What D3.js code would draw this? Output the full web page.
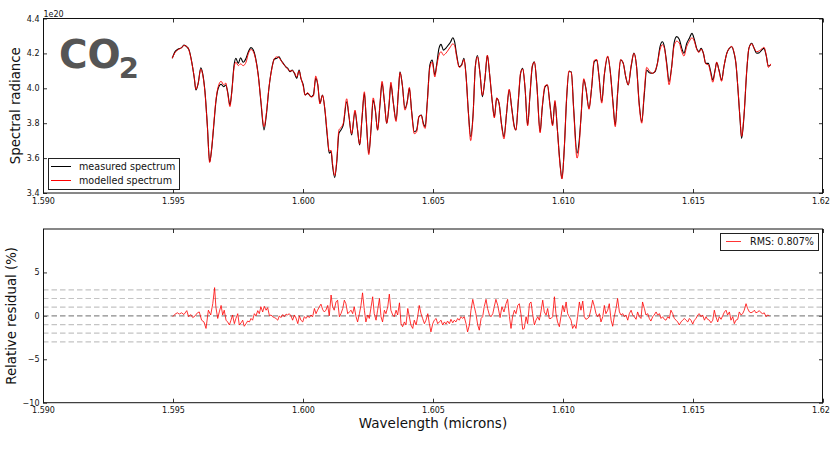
<!DOCTYPE html>
<html>
<head>
<meta charset="utf-8">
<script src="https://cdn.jsdelivr.net/npm/d3@7"></script>
<style>
  html, body { margin: 0; padding: 0; background: #fff; }
  svg { display: block; }
  text { font-family: "DejaVu Sans", sans-serif; }
</style>
</head>
<body>
<svg id="chart" width="830" height="450"></svg>
<script>
// ---------------- DATA ----------------
const wavelength = [1.59497,1.59508,1.59520,1.59533,1.59542,1.59553,1.59562,1.59572,1.59582,1.59588,1.59597,1.59607,1.59614,1.59623,1.59632,1.59641,1.59649,1.59657,1.59665,1.59674,1.59685,1.59695,1.59703,1.59710,1.59719,1.59726,1.59735,1.59742,1.59751,1.59760,1.59770,1.59781,1.59790,1.59800,1.59809,1.59818,1.59828,1.59838,1.59850,1.59859,1.59869,1.59880,1.59890,1.59899,1.59908,1.59915,1.59924,1.59933,1.59941,1.59950,1.59959,1.59967,1.59976,1.59985,1.59992,1.60001,1.60008,1.60018,1.60031,1.60040,1.60049,1.60057,1.60065,1.60075,1.60085,1.60093,1.60101,1.60108,1.60114,1.60122,1.60130,1.60138,1.60146,1.60155,1.60168,1.60177,1.60187,1.60200,1.60209,1.60218,1.60227,1.60236,1.60243,1.60253,1.60262,1.60270,1.60278,1.60287,1.60296,1.60304,1.60313,1.60322,1.60331,1.60338,1.60347,1.60358,1.60367,1.60373,1.60382,1.60392,1.60401,1.60409,1.60418,1.60428,1.60437,1.60446,1.60455,1.60463,1.60470,1.60478,1.60488,1.60497,1.60507,1.60514,1.60523,1.60531,1.60540,1.60549,1.60559,1.60568,1.60576,1.60583,1.60591,1.60601,1.60610,1.60619,1.60627,1.60636,1.60645,1.60654,1.60663,1.60671,1.60681,1.60690,1.60700,1.60709,1.60718,1.60728,1.60736,1.60745,1.60754,1.60764,1.60773,1.60783,1.60793,1.60803,1.60813,1.60819,1.60828,1.60837,1.60845,1.60854,1.60864,1.60873,1.60882,1.60890,1.60899,1.60912,1.60920,1.60931,1.60940,1.60950,1.60960,1.60969,1.60978,1.60988,1.60996,1.61005,1.61014,1.61023,1.61032,1.61041,1.61054,1.61062,1.61069,1.61080,1.61088,1.61100,1.61110,1.61120,1.61130,1.61138,1.61149,1.61159,1.61172,1.61182,1.61192,1.61201,1.61210,1.61222,1.61232,1.61241,1.61251,1.61262,1.61273,1.61283,1.61293,1.61303,1.61312,1.61322,1.61332,1.61344,1.61354,1.61363,1.61373,1.61382,1.61390,1.61399,1.61408,1.61418,1.61427,1.61437,1.61447,1.61457,1.61465,1.61476,1.61486,1.61496,1.61505,1.61514,1.61523,1.61531,1.61540,1.61549,1.61559,1.61568,1.61576,1.61585,1.61591,1.61600,1.61610,1.61619,1.61630,1.61640,1.61649,1.61658,1.61665,1.61674,1.61681,1.61687,1.61696,1.61707,1.61715,1.61726,1.61735,1.61745,1.61755,1.61764,1.61773,1.61781,1.61790,1.61799];

// spectral radiance, units of 1e20
const measured = [4.172,4.210,4.225,4.233,4.248,4.238,4.219,4.152,4.057,3.990,4.029,4.118,4.086,3.981,3.790,3.579,3.656,3.790,3.923,4.000,4.023,4.009,4.019,3.981,3.904,3.981,4.134,4.172,4.143,4.175,4.149,4.172,4.210,4.233,4.219,4.172,4.076,3.923,3.761,3.847,4.000,4.115,4.168,4.172,4.181,4.162,4.143,4.124,4.115,4.095,4.105,4.086,4.057,4.105,4.057,4.019,3.962,3.971,3.952,3.962,4.057,4.019,3.914,3.962,3.864,3.732,3.628,3.637,3.551,3.488,3.579,3.742,3.761,3.790,3.923,3.837,3.732,3.866,3.771,3.675,3.828,3.971,3.828,3.628,3.771,3.933,3.876,3.761,3.904,4.029,3.923,3.799,3.904,4.023,3.923,3.818,3.981,4.095,4.019,3.885,3.923,4.000,3.866,3.751,3.761,3.837,3.847,3.799,3.780,3.923,4.134,4.162,4.076,4.134,4.229,4.252,4.219,4.229,4.248,4.267,4.290,4.267,4.191,4.124,4.134,4.172,4.076,3.866,3.723,3.847,4.128,4.188,4.082,3.952,4.057,4.187,4.076,3.923,3.837,3.943,3.914,3.790,3.723,3.857,3.990,3.885,3.780,3.761,3.923,4.086,4.115,4.000,3.790,3.962,4.124,4.152,4.029,3.751,3.885,4.009,4.019,3.904,3.790,3.923,3.771,3.579,3.484,3.656,3.943,4.095,4.095,3.885,3.628,3.694,3.828,4.048,4.000,3.885,4.000,4.152,4.162,4.076,3.923,4.076,4.181,4.095,3.923,3.790,3.971,4.162,4.143,4.067,4.019,4.124,4.202,4.124,3.914,3.809,3.952,4.105,4.089,4.086,4.095,4.143,4.238,4.267,4.238,4.143,4.038,4.124,4.258,4.296,4.281,4.229,4.201,4.258,4.287,4.315,4.281,4.229,4.210,4.229,4.201,4.143,4.143,4.095,4.048,4.105,4.147,4.105,4.048,4.124,4.201,4.229,4.238,4.201,4.143,3.971,3.818,3.713,3.837,4.105,4.229,4.258,4.229,4.201,4.204,4.219,4.229,4.191,4.128,4.134];

const modelled = [4.172,4.205,4.222,4.232,4.245,4.240,4.215,4.150,4.060,3.995,4.030,4.110,4.080,3.975,3.785,3.575,3.660,3.800,3.930,4.010,4.040,4.020,4.030,3.975,3.895,3.975,4.120,4.150,4.130,4.140,4.130,4.150,4.200,4.222,4.210,4.165,4.070,3.930,3.780,3.855,4.005,4.110,4.170,4.180,4.175,4.160,4.140,4.125,4.110,4.100,4.100,4.090,4.065,4.100,4.060,4.010,3.960,3.975,3.950,3.955,4.070,4.020,3.910,3.960,3.870,3.745,3.640,3.645,3.565,3.500,3.590,3.760,3.775,3.800,3.940,3.840,3.740,3.875,3.775,3.680,3.835,3.980,3.830,3.620,3.780,3.945,3.880,3.760,3.910,4.040,3.925,3.800,3.910,4.035,3.920,3.810,3.985,4.090,4.020,3.875,3.920,4.005,3.860,3.740,3.750,3.840,3.845,3.790,3.770,3.915,4.120,4.150,4.065,4.125,4.190,4.210,4.190,4.200,4.220,4.240,4.255,4.245,4.180,4.120,4.130,4.165,4.070,3.860,3.700,3.840,4.125,4.180,4.080,3.960,4.060,4.190,4.080,3.920,3.830,3.945,3.915,3.785,3.710,3.860,3.995,3.880,3.775,3.760,3.930,4.090,4.110,4.005,3.785,3.965,4.130,4.150,4.025,3.745,3.890,4.015,4.020,3.900,3.785,3.930,3.770,3.570,3.480,3.660,3.950,4.100,4.090,3.875,3.600,3.670,3.830,4.055,4.000,3.880,4.005,4.160,4.165,4.070,3.915,4.080,4.185,4.090,3.915,3.780,3.975,4.165,4.140,4.070,4.020,4.130,4.200,4.120,3.905,3.800,3.970,4.120,4.100,4.085,4.100,4.140,4.220,4.250,4.230,4.130,4.020,4.120,4.240,4.270,4.260,4.210,4.185,4.240,4.270,4.290,4.270,4.225,4.205,4.225,4.200,4.140,4.135,4.085,4.035,4.100,4.150,4.100,4.040,4.125,4.200,4.230,4.240,4.205,4.145,3.975,3.825,3.725,3.845,4.110,4.230,4.255,4.230,4.210,4.215,4.225,4.235,4.195,4.120,4.140];

const residualWavelength = [1.59499,1.59508,1.59517,1.59524,1.59533,1.59542,1.59553,1.59560,1.59568,1.59576,1.59585,1.59594,1.59601,1.59610,1.59619,1.59627,1.59636,1.59645,1.59653,1.59660,1.59665,1.59672,1.59678,1.59685,1.59691,1.59697,1.59704,1.59710,1.59717,1.59723,1.59729,1.59736,1.59742,1.59749,1.59755,1.59762,1.59768,1.59774,1.59781,1.59787,1.59794,1.59800,1.59806,1.59813,1.59819,1.59826,1.59832,1.59838,1.59845,1.59851,1.59858,1.59864,1.59871,1.59877,1.59883,1.59890,1.59896,1.59903,1.59909,1.59915,1.59922,1.59928,1.59935,1.59941,1.59947,1.59954,1.59960,1.59967,1.59973,1.59980,1.59986,1.59992,1.59999,1.60005,1.60012,1.60018,1.60024,1.60031,1.60037,1.60044,1.60050,1.60056,1.60063,1.60069,1.60076,1.60082,1.60088,1.60095,1.60101,1.60108,1.60114,1.60120,1.60127,1.60133,1.60140,1.60146,1.60153,1.60159,1.60165,1.60172,1.60178,1.60185,1.60191,1.60197,1.60204,1.60210,1.60217,1.60223,1.60229,1.60236,1.60242,1.60249,1.60255,1.60262,1.60268,1.60274,1.60281,1.60287,1.60294,1.60300,1.60306,1.60313,1.60319,1.60326,1.60332,1.60338,1.60345,1.60351,1.60358,1.60364,1.60371,1.60377,1.60383,1.60390,1.60396,1.60403,1.60409,1.60415,1.60422,1.60428,1.60435,1.60441,1.60447,1.60454,1.60460,1.60467,1.60473,1.60480,1.60486,1.60492,1.60499,1.60505,1.60512,1.60518,1.60524,1.60531,1.60537,1.60544,1.60550,1.60556,1.60563,1.60569,1.60576,1.60582,1.60588,1.60595,1.60601,1.60608,1.60614,1.60620,1.60627,1.60633,1.60640,1.60646,1.60653,1.60659,1.60665,1.60672,1.60678,1.60685,1.60691,1.60697,1.60704,1.60710,1.60717,1.60723,1.60730,1.60736,1.60742,1.60749,1.60758,1.60765,1.60773,1.60781,1.60787,1.60794,1.60800,1.60806,1.60813,1.60819,1.60826,1.60832,1.60838,1.60845,1.60851,1.60858,1.60864,1.60871,1.60877,1.60883,1.60890,1.60896,1.60903,1.60909,1.60915,1.60922,1.60928,1.60935,1.60941,1.60947,1.60954,1.60960,1.60967,1.60973,1.60979,1.60986,1.60992,1.60999,1.61005,1.61012,1.61018,1.61024,1.61031,1.61037,1.61044,1.61050,1.61056,1.61063,1.61069,1.61076,1.61082,1.61088,1.61095,1.61101,1.61108,1.61114,1.61121,1.61127,1.61133,1.61140,1.61146,1.61153,1.61159,1.61165,1.61172,1.61178,1.61185,1.61191,1.61197,1.61204,1.61210,1.61217,1.61223,1.61230,1.61236,1.61242,1.61249,1.61255,1.61262,1.61268,1.61274,1.61281,1.61287,1.61294,1.61300,1.61306,1.61313,1.61319,1.61326,1.61332,1.61338,1.61345,1.61351,1.61358,1.61364,1.61371,1.61377,1.61383,1.61390,1.61396,1.61403,1.61409,1.61415,1.61422,1.61428,1.61435,1.61441,1.61447,1.61454,1.61460,1.61467,1.61473,1.61480,1.61486,1.61492,1.61499,1.61505,1.61512,1.61518,1.61524,1.61531,1.61537,1.61544,1.61550,1.61556,1.61563,1.61569,1.61576,1.61582,1.61588,1.61595,1.61601,1.61608,1.61614,1.61621,1.61627,1.61633,1.61640,1.61646,1.61653,1.61659,1.61665,1.61672,1.61678,1.61685,1.61691,1.61697,1.61704,1.61710,1.61717,1.61723,1.61730,1.61736,1.61742,1.61749,1.61755,1.61762,1.61768,1.61774,1.61781,1.61787,1.61794];

// relative residual, percent
const residualValue = [-0.1,0.2,0.35,0.2,0.35,0.15,0.6,-0.1,0.15,-0.2,0,0.35,0.45,-0.5,-0.7,-1.45,0.65,0.1,1.4,3.25,1.0,-0.3,0.45,1.2,0.1,0.65,-0.5,-0.7,-1.05,-0.5,0.1,-0.9,-0.3,0.25,-1.05,-0.8,-0.5,-1.2,-0.9,-0.6,-0.7,-0.3,-0.5,0.25,0,0.6,0.25,1.05,0.45,1.1,0.65,0.95,0,0.1,-0.1,-0.2,-0.3,-0.5,0,-0.2,0.15,-0.1,0.2,0.1,0.25,0,-0.5,0.1,-0.25,-0.9,0,-0.5,-0.7,-0.1,-0.3,0,-0.2,0.1,-0.1,0.85,0.25,0.65,1.05,1.35,0.7,0.45,0.65,1.2,0,2.4,1.05,0.65,1.6,1.8,-0.1,0.25,0.85,1.8,1.4,0.25,0.45,0.65,0.25,1.05,-0.1,-0.7,0.25,1.2,2.65,0.65,-0.7,0.1,-0.3,1.05,2.2,0.25,-0.5,0.65,2.0,-0.1,-0.7,0.65,0.25,1.05,2.5,0.65,0.1,-0.1,0.65,0.1,1.5,-0.9,-1.25,-0.7,-1.05,0.85,-0.1,-1.05,-1.45,-0.5,-1.05,-0.1,1.2,0.25,-0.3,-0.9,-0.5,0.25,-0.9,-1.85,-0.9,-0.5,-0.3,-0.9,-0.7,-0.5,-1.05,-0.7,-0.95,-0.6,-0.9,-0.4,-0.8,-0.5,-0.7,-0.3,-0.5,-0.1,-0.3,-0.1,-0.9,-1.85,-1.05,0.65,1.9,1.05,0.25,-1.05,-1.65,-0.3,-0.1,1.05,1.9,0.85,0.1,-0.1,0.25,1.1,1.9,1.2,-0.2,1.05,0.45,1.4,1.9,-0.1,-1.45,-0.1,0.65,0.25,1.2,1.4,0.25,-1.55,-1.45,-0.1,-0.9,1.4,1.6,0.25,-1.05,-0.5,-0.1,-0.5,0.45,1.8,0.45,0.1,0.85,-0.3,-0.3,-0.1,2.2,0.25,-0.7,-1.25,-0.1,1.2,0.45,1.6,0.25,-0.1,-0.5,-1.45,-1.05,-1.45,-0.1,1.6,0.65,1.7,-0.1,-0.4,-0.3,-0.1,0.85,1.8,1.05,0.25,-0.1,0.25,-0.7,-0.1,1.2,0.25,0.65,1.4,-0.5,-1.2,-0.1,0.85,2.0,0.45,0.1,0.25,-0.1,0.1,-0.5,0.25,0.65,0.1,-0.1,-0.4,0.45,-0.1,-0.3,1.6,0.85,0.1,0.25,-0.3,-0.6,-0.1,0.1,0.45,0.1,0.25,-0.3,-0.1,-0.4,-0.5,-0.1,-0.3,0.65,0.25,-0.3,-0.5,-0.7,-1.05,-0.7,-0.5,-0.3,-0.5,-0.7,-0.3,-0.5,-0.95,-0.5,-0.3,0.1,0.25,-0.1,0.1,-0.5,-0.1,-0.4,-0.5,-0.8,-0.5,0.65,-0.1,-0.7,-0.1,-0.4,0,0.45,0.65,0.1,0.45,-0.5,-0.1,-0.9,-0.5,-0.4,0.45,0.1,0.25,0.65,1.4,0.85,0.45,0.35,0.45,0.65,0.35,0.45,0.6,0.35,0.25,0.35,-0.1,0.1,0];

const xTicks = [1.590, 1.595, 1.600, 1.605, 1.610, 1.615, 1.620];
const yTicksTop = [3.4, 3.6, 3.8, 4.0, 4.2, 4.4];
const yTicksBottom = [-10, -5, 0, 5];
const dashLevels = [-3, -2, -1, 1, 2, 3];
const zeroLevel = [0];
const legendTop = ["measured spectrum", "modelled spectrum"];
const legendBottom = ["RMS: 0.807%"];
const xDomain = [1.590, 1.620];
const yDomainTop = [3.4, 4.4];
const yDomainBottom = [-10, 10];

// ---------------- DRAW ----------------
const svg = d3.select("#chart");
svg.append("rect").attr("width", 830).attr("height", 450).attr("fill", "#fff");

const L = 43, R = 823;
const top1 = 18.5, bot1 = 193;
const top2 = 229, bot2 = 402.7;

const x = d3.scaleLinear().domain(xDomain).range([L, R]);
const yT = d3.scaleLinear().domain(yDomainTop).range([bot1, top1]);
const yB = d3.scaleLinear().domain(yDomainBottom).range([bot2, top2]);

const fmtX = d3.format(".3f");
const fmtYT = d3.format(".1f");
const fmtYB = d => d3.format("d")(d).replace("-", "\u2212");

function styleAxis(g) {
  g.select(".domain").remove();
  g.selectAll(".tick line").attr("stroke", "#000").attr("stroke-width", 0.8);
  g.selectAll(".tick text").attr("font-family", "DejaVu Sans").attr("font-size", 8).attr("fill", "#111");
}

function drawPanel(yScale, yTicks, yFmt, topY, botY, clipId) {
  svg.append("defs").append("clipPath").attr("id", clipId)
    .append("rect").attr("x", L).attr("y", topY).attr("width", R - L).attr("height", botY - topY);
  svg.append("g").attr("transform", `translate(0,${botY})`)
    .call(d3.axisBottom(x).tickValues(xTicks).tickFormat(fmtX).tickSizeInner(-4).tickSizeOuter(0).tickPadding(5))
    .call(styleAxis);
  svg.append("g").attr("transform", `translate(0,${topY})`)
    .call(d3.axisTop(x).tickValues(xTicks).tickFormat("").tickSizeInner(-4).tickSizeOuter(0))
    .call(styleAxis);
  svg.append("g").attr("transform", `translate(${L},0)`)
    .call(d3.axisLeft(yScale).tickValues(yTicks).tickFormat(yFmt).tickSizeInner(-4).tickSizeOuter(0).tickPadding(3.5))
    .call(styleAxis);
  svg.append("g").attr("transform", `translate(${R},0)`)
    .call(d3.axisRight(yScale).tickValues(yTicks).tickFormat("").tickSizeInner(-4).tickSizeOuter(0))
    .call(styleAxis);
}

// ----- top panel -----
drawPanel(yT, yTicksTop, fmtYT, top1, bot1, "clipTop");

const lineTop = d3.line().x((d, i) => x(wavelength[i])).y(d => yT(d)).curve(d3.curveMonotoneX);
const gTop = svg.append("g").attr("clip-path", "url(#clipTop)");
gTop.append("path").datum(measured).attr("d", lineTop)
  .attr("fill", "none").attr("stroke", "#000").attr("stroke-width", 1.1).attr("stroke-linejoin", "round");
gTop.append("path").datum(modelled).attr("d", lineTop)
  .attr("fill", "none").attr("stroke", "#ff0000").attr("stroke-width", 1.0).attr("stroke-opacity", 0.9).attr("stroke-linejoin", "round");

svg.append("rect").attr("x", L + 0.5).attr("y", top1).attr("width", R - L - 1).attr("height", bot1 - top1)
  .attr("fill", "none").attr("stroke", "#111").attr("stroke-width", 1);

svg.append("text").attr("x", 43.5).attr("y", 16.8).attr("font-size", 8).attr("fill", "#111").text("1e20");

// CO2 label
const co2 = svg.append("text").attr("x", 59).attr("y", 68).attr("fill", "#555")
  .attr("font-family", "Liberation Sans, Arial, sans-serif").attr("font-weight", "bold");
co2.append("tspan").attr("font-size", 39).text("CO");
co2.append("tspan").attr("font-size", 29).attr("dy", 10).attr("dx", -2).text("2");

// top legend
const lgT = svg.append("g");
lgT.append("rect").attr("x", 48.5).attr("y", 158.5).attr("width", 131).attr("height", 31)
  .attr("fill", "#fff").attr("stroke", "#222").attr("stroke-width", 1);
const legColors = ["#000", "#ff0000"];
legendTop.forEach((t, i) => {
  const yy = 166.5 + i * 14;
  lgT.append("line").attr("x1", 51).attr("x2", 71).attr("y1", yy).attr("y2", yy)
    .attr("stroke", legColors[i]).attr("stroke-width", 1);
  lgT.append("text").attr("x", 79).attr("y", yy + 3.6).attr("font-size", 9.6).attr("fill", "#111").text(t);
});

svg.append("text").attr("transform", `translate(20,${(top1 + bot1) / 2}) rotate(-90)`)
  .attr("text-anchor", "middle").attr("font-size", 13.3).attr("fill", "#111").text("Spectral radiance");

// ----- bottom panel -----
drawPanel(yB, yTicksBottom, fmtYB, top2, bot2, "clipBot");

const gBot = svg.append("g").attr("clip-path", "url(#clipBot)");
gBot.selectAll("line.dash").data(dashLevels).enter().append("line")
  .attr("x1", L).attr("x2", R).attr("y1", d => yB(d)).attr("y2", d => yB(d))
  .attr("stroke", "#c4c4c4").attr("stroke-width", 1.2).attr("stroke-dasharray", "5.5,3");
gBot.selectAll("line.zero").data(zeroLevel).enter().append("line")
  .attr("x1", L).attr("x2", R).attr("y1", d => yB(d)).attr("y2", d => yB(d))
  .attr("stroke", "#8a8a8a").attr("stroke-width", 1.3).attr("stroke-dasharray", "5.5,3");

const lineRes = d3.line().x((d, i) => x(residualWavelength[i])).y(d => yB(d));
gBot.append("path").datum(residualValue).attr("d", lineRes)
  .attr("fill", "none").attr("stroke", "#ff0000").attr("stroke-width", 0.8).attr("stroke-linejoin", "round");

svg.append("rect").attr("x", L + 0.5).attr("y", top2).attr("width", R - L - 1).attr("height", bot2 - top2)
  .attr("fill", "none").attr("stroke", "#111").attr("stroke-width", 1);

// bottom legend
const lgB = svg.append("g");
lgB.append("rect").attr("x", 720.5).attr("y", 233.5).attr("width", 98).attr("height", 17)
  .attr("fill", "#fff").attr("stroke", "#222").attr("stroke-width", 1);
legendBottom.forEach((t, i) => {
  lgB.append("line").attr("x1", 726).attr("x2", 741).attr("y1", 241.5).attr("y2", 241.5)
    .attr("stroke", "#ff0000").attr("stroke-width", 0.8);
  lgB.append("text").attr("x", 750).attr("y", 245).attr("font-size", 9.6).attr("fill", "#111").text(t);
});

svg.append("text").attr("transform", `translate(16,${(top2 + bot2) / 2}) rotate(-90)`)
  .attr("text-anchor", "middle").attr("font-size", 13.3).attr("fill", "#111").text("Relative residual (%)");

svg.append("text").attr("x", (L + R) / 2).attr("y", 427.5).attr("text-anchor", "middle")
  .attr("font-size", 13.5).attr("fill", "#111").text("Wavelength (microns)");
</script>
</body>
</html>
